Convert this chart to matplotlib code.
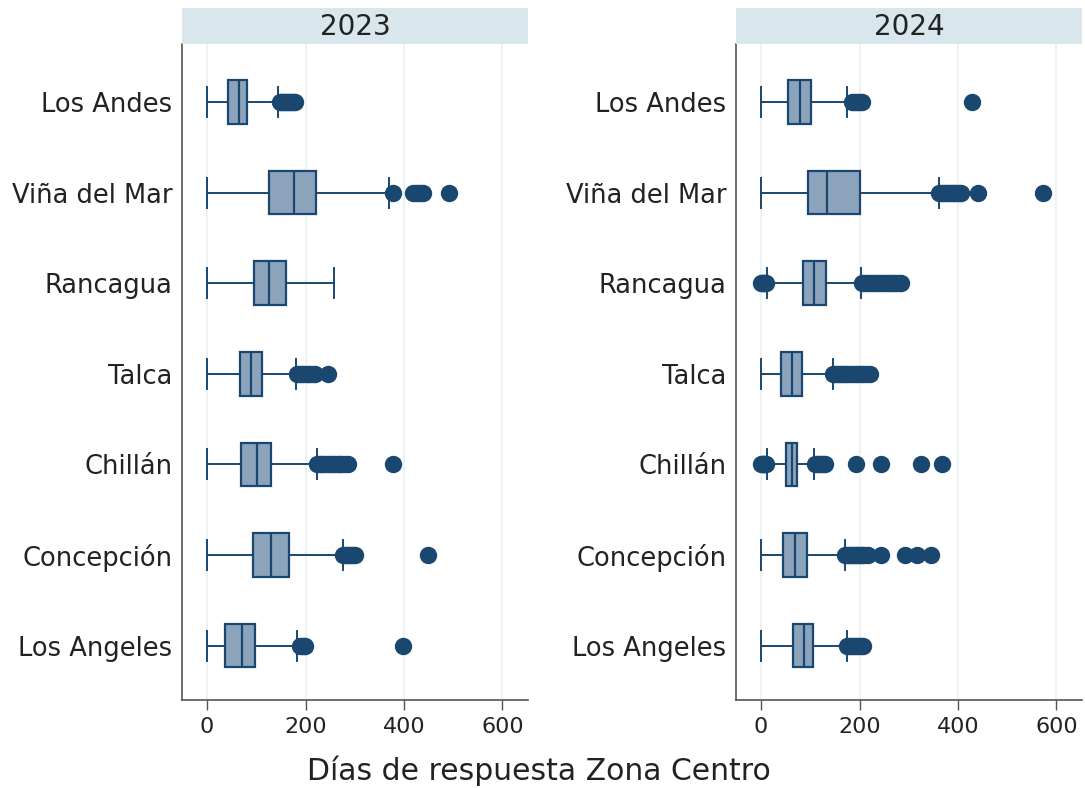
import numpy as np
import matplotlib
matplotlib.use('Agg')
import matplotlib.pyplot as plt

# datos (dias de respuesta)
ciudades = ['Los Andes', 'Viña del Mar', 'Rancagua', 'Talca', 'Chillán', 'Concepción', 'Los Angeles']
anios = ['2023', '2024']

q1_2023 = [43, 125, 95, 67, 68, 94, 37]
med_2023 = [64, 177, 126, 89, 101, 129, 70]
q3_2023 = [81, 221, 160, 112, 129, 166, 97]
wlo_2023 = [0, 0, 0, 0, 0, 0, 0]
whi_2023 = [145, 370, 258, 181, 223, 276, 183]
out_2023 = [
    [148, 151, 154, 157, 160, 163, 166, 169, 172, 175, 178],
    [377, 419, 424, 429, 434, 439, 492],
    [],
    [182, 186, 190, 195, 200, 205, 210, 215, 219, 246],
    [224, 228, 232, 236, 240, 245, 250, 255, 260, 265, 270, 275, 280, 287, 378],
    [277, 281, 285, 289, 293, 297, 300, 449],
    [188, 192, 196, 199, 399],
]

q1_2024 = [54, 96, 85, 40, 50, 45, 64]
med_2024 = [80, 133, 108, 62, 62, 69, 87]
q3_2024 = [101, 200, 131, 83, 72, 93, 106]
wlo_2024 = [0, 0, 12, 0, 13, 0, 0]
whi_2024 = [174, 361, 203, 146, 108, 170, 175]
out_2024 = [
    [184, 188, 192, 196, 200, 204, 429],
    [362, 366, 370, 374, 378, 382, 386, 390, 394, 398, 402, 406, 440, 572],
    [0, 2, 4, 6, 8, 10, 205, 210, 215, 220, 225, 230, 235, 240, 245, 250, 255, 260, 265, 270, 275, 280, 285],
    [146, 150, 154, 158, 162, 166, 170, 175, 180, 185, 190, 195, 200, 205, 210, 215, 221],
    [0, 2, 4, 6, 8, 10, 110, 114, 118, 122, 126, 130, 193, 243, 325, 367],
    [170, 174, 178, 182, 186, 190, 194, 198, 202, 206, 210, 217, 243, 292, 316, 345],
    [175, 179, 183, 187, 191, 195, 199, 203, 207],
]

navy = '#1a476f'
caja = '#8ca3bc'

datos = {
    '2023': (q1_2023, med_2023, q3_2023, wlo_2023, whi_2023, out_2023),
    '2024': (q1_2024, med_2024, q3_2024, wlo_2024, whi_2024, out_2024),
}

fig = plt.figure(figsize=(10.85, 7.88), dpi=100)
W, H = 1085, 788
lefts = [182, 736]

for anio, x0 in zip(anios, lefts):
    ax = fig.add_axes([x0 / W, (H - 700) / H, 346 / W, 656 / H])
    q1, med, q3, wlo, whi, out = datos[anio]
    stats = []
    for i in range(len(ciudades)):
        stats.append(dict(q1=q1[i], med=med[i], q3=q3[i], whislo=wlo[i], whishi=whi[i],
                          fliers=np.array(out[i], dtype=float), label=ciudades[i]))
    pos = np.arange(1, len(ciudades) + 1)
    ax.bxp(stats, positions=pos, widths=0.48, capwidths=0.33, orientation='horizontal',
           patch_artist=True, showfliers=True,
           boxprops=dict(facecolor=caja, edgecolor=navy, linewidth=1.6),
           medianprops=dict(color=navy, linewidth=1.6),
           whiskerprops=dict(color=navy, linewidth=1.4),
           capprops=dict(color=navy, linewidth=1.4),
           flierprops=dict(marker='o', markerfacecolor=navy, markeredgecolor=navy,
                           markersize=11.5, linestyle='none'))
    ax.set_ylim(7.6, 0.36)
    ax.set_xlim(-51, 652)
    ax.set_xticks([0, 200, 400, 600])
    ax.set_yticks(pos)
    ax.set_yticklabels(ciudades)
    ax.tick_params(axis='y', length=0, pad=7, labelsize=18.5, colors='#222222')
    ax.tick_params(axis='x', length=7, width=1, pad=5, labelsize=16, colors='#222222')
    ax.tick_params(axis='x', color='#555555')
    ax.xaxis.grid(True, color='#e8f0f2', linewidth=1.2)
    ax.set_axisbelow(True)
    for s in ['top', 'right']:
        ax.spines[s].set_visible(False)
    for s in ['left', 'bottom']:
        ax.spines[s].set_color('#555555')
        ax.spines[s].set_linewidth(1.2)

    # franja del titulo
    hx = fig.add_axes([x0 / W, (H - 44) / H, 346 / W, 36 / H])
    hx.set_facecolor('#d9e6ec')
    hx.set_xticks([])
    hx.set_yticks([])
    for s in hx.spines.values():
        s.set_visible(False)
    hx.text(0.5, 0.47, anio, ha='center', va='center', fontsize=20, color='#222222',
            transform=hx.transAxes)

fig.text(539 / W, 1 - 771 / H, 'Días de respuesta Zona Centro', ha='center', va='center',
         fontsize=21.5, color='#222222')

fig.savefig('out.png', dpi=100)
